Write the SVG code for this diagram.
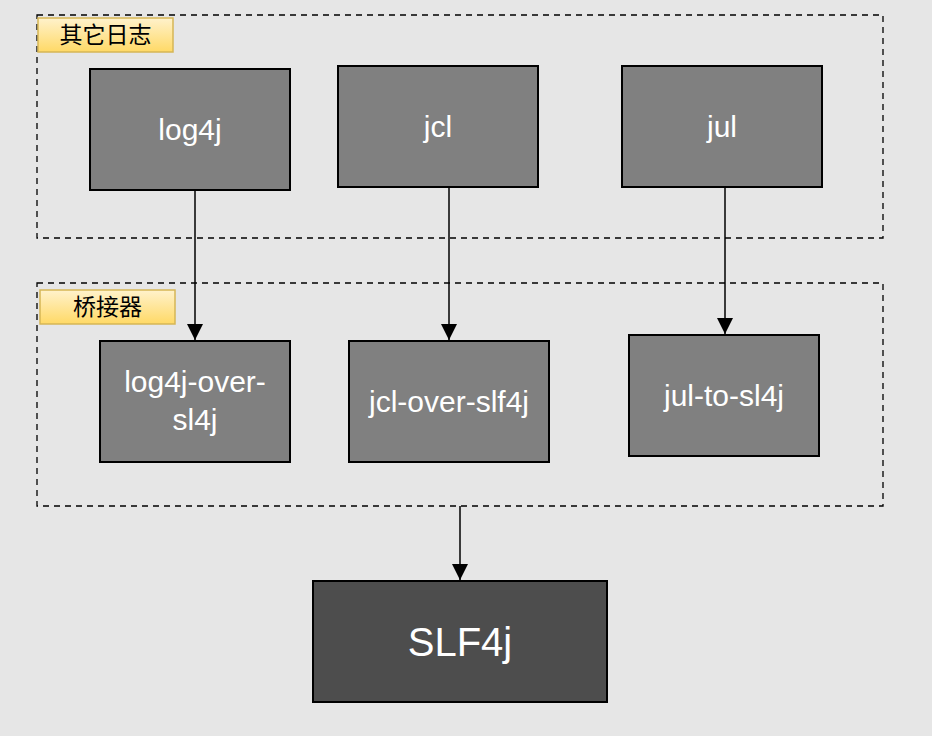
<svg xmlns="http://www.w3.org/2000/svg" width="932" height="736" viewBox="0 0 932 736">
<defs>
<linearGradient id="yg" x1="0" y1="0" x2="0" y2="1"><stop offset="0" stop-color="#fff2cc"/><stop offset="1" stop-color="#ffd966"/></linearGradient>
<marker id="ah" viewBox="0 0 10 10" refX="10" refY="5" markerWidth="16" markerHeight="16" markerUnits="userSpaceOnUse" orient="auto"><path d="M0,0 L10,5 L0,10 Z" fill="#000"/></marker>
</defs>
<style>
.grp{fill:none;stroke:#000;stroke-width:1.3;stroke-dasharray:6 5}
.lbl{fill:url(#yg);stroke:#d6b656;stroke-width:1.5}
.lt{font-family:"Noto Sans CJK SC","Liberation Sans",sans-serif;font-size:23px;fill:#000;text-anchor:middle}
.box{fill:#808080;stroke:#000;stroke-width:2}
.dark{fill:#4d4d4d;stroke:#000;stroke-width:2}
.t{font-family:"Liberation Sans",Arial,sans-serif;font-size:30px;fill:#fff;text-anchor:middle}
.big{font-size:40px}
.c{fill:none;stroke:#000;stroke-width:1.5;marker-end:url(#ah)}
</style>
<rect width="932" height="736" fill="#e6e6e6"/>
<g id="group-other">
<rect class="grp" x="37" y="15" width="846" height="223"/>
<rect class="lbl" x="38" y="18" width="135" height="34"/>
<text class="lt" x="105.5" y="43">其它日志</text>
</g>
<g id="group-bridge">
<rect class="grp" x="37" y="283" width="846" height="223"/>
<rect class="lbl" x="40" y="290" width="135" height="34"/>
<text class="lt" x="107.5" y="315">桥接器</text>
</g>
<g id="log4j"><rect class="box" x="90" y="69" width="200" height="121"/><text class="t" x="190" y="140">log4j</text></g>
<g id="jcl"><rect class="box" x="338" y="66" width="200" height="121"/><text class="t" x="438" y="137">jcl</text></g>
<g id="jul"><rect class="box" x="622" y="66" width="200" height="121"/><text class="t" x="722" y="137">jul</text></g>
<g id="log4j-over-sl4j"><rect class="box" x="100" y="341" width="190" height="121"/><text class="t" x="195" y="392">log4j-over-</text><text class="t" x="195" y="430">sl4j</text></g>
<g id="jcl-over-slf4j"><rect class="box" x="349" y="341" width="200" height="121"/><text class="t" x="449" y="412">jcl-over-slf4j</text></g>
<g id="jul-to-sl4j"><rect class="box" x="629" y="335" width="190" height="121"/><text class="t" x="724" y="406">jul-to-sl4j</text></g>
<g id="slf4j"><rect class="dark" x="313" y="581" width="294" height="121"/><text class="t big" x="460" y="656">SLF4j</text></g>
<g id="connectors">
<path class="c" d="M195,190 L195,340"/>
<path class="c" d="M449,187 L449,340"/>
<path class="c" d="M725,187 L725,334"/>
<path class="c" d="M460,506 L460,580"/>
</g>
</svg>
